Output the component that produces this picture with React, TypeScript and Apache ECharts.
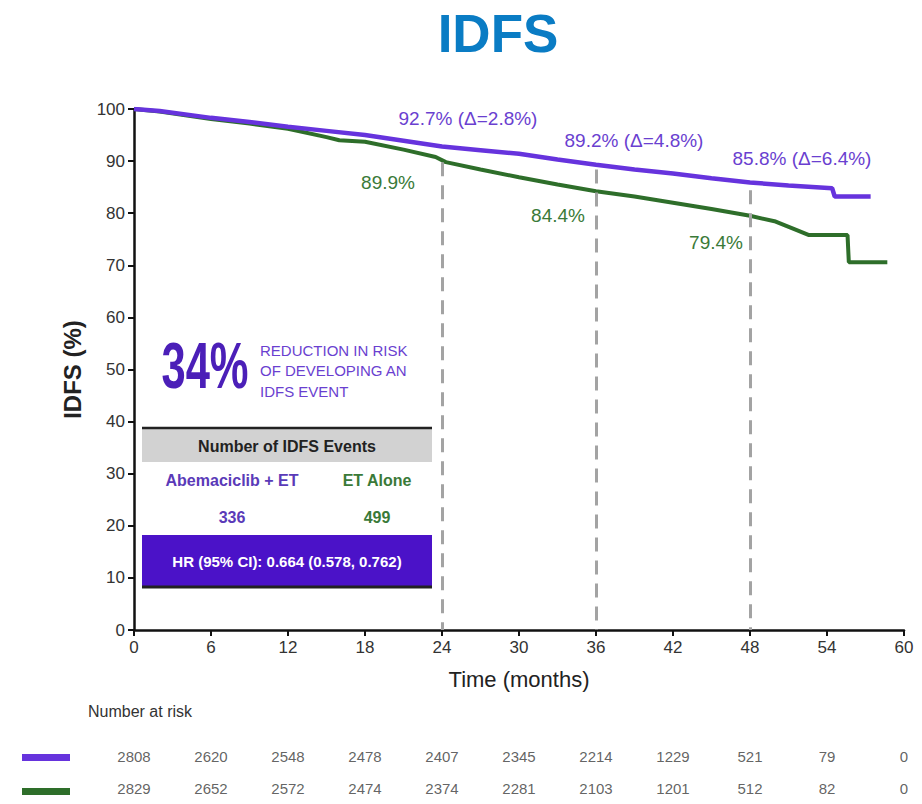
import React, { useEffect, useRef } from "react";
import * as echarts from "echarts";

const FONT = '"Liberation Sans", Arial, Helvetica, sans-serif';
const PURPLE = "#6633dd";
const GREEN = "#2e6e2a";
const PURPLE_TEXT = "#6a3fd0";
const GREEN_TEXT = "#3a7a38";

// Kaplan-Meier curves: [month, IDFS %]
const abemaCurve: [number, number][] = [
  [0, 100], [2, 99.6], [6, 98.3], [9, 97.5], [12, 96.6], [15, 95.8], [18, 95.0],
  [21, 93.9], [24, 92.8], [27, 92.1], [30, 91.4], [33, 90.3], [36, 89.3],
  [39, 88.4], [42, 87.6], [45, 86.7], [48, 85.9], [51, 85.3], [54.4, 84.8],
  [54.6, 83.2], [57.4, 83.2],
];
const etCurve: [number, number][] = [
  [0, 100], [2, 99.5], [6, 98.1], [9, 97.2], [12, 96.2], [15, 94.6], [16, 94.0],
  [18, 93.7], [21, 92.2], [23.5, 90.8], [24.3, 89.8], [27, 88.4], [30, 86.9],
  [33, 85.5], [36, 84.2], [39, 83.2], [42, 82.0], [45, 80.8], [48, 79.5],
  [50, 78.4], [51.5, 76.9], [52.6, 75.8], [55.6, 75.8], [55.7, 70.6], [58.7, 70.6],
];

// Landmark dashed lines: [month, top value]
const landmarks: [number, number][] = [[24, 89.8], [36, 88.4], [48, 84.4]];

// Number at risk
const riskMonths = [0, 6, 12, 18, 24, 30, 36, 42, 48, 54, 60];
const abemaRisk = [2808, 2620, 2548, 2478, 2407, 2345, 2214, 1229, 521, 79, 0];
const etRisk = [2829, 2652, 2572, 2474, 2374, 2281, 2103, 1201, 512, 82, 0];

// Annotation texts
const abemaLabels = ["92.7% (Δ=2.8%)", "89.2% (Δ=4.8%)", "85.8% (Δ=6.4%)"];
const etLabels = ["89.9%", "84.4%", "79.4%"];
const eventsAbema = "336";
const eventsEt = "499";
const hrText = "HR (95% CI): 0.664 (0.578, 0.762)";

function txt(x: number, y: number, text: string, font: string, fill: string, align = "center", extra: any = {}) {
  return {
    type: "text",
    x,
    y,
    ...extra,
    style: { text, font, fill, align, verticalAlign: "middle" },
  };
}

export default function App() {
  const ref = useRef<HTMLDivElement>(null);

  useEffect(() => {
    if (!ref.current) return;
    const chart = echarts.init(ref.current, undefined, { renderer: "svg" });

    const abemaLabelPos = [[468, 118], [634, 140], [802, 158]];
    const etLabelPos = [[388, 182], [558, 215], [716, 242]];

    const graphics: any[] = [
      txt(498, 33, "IDFS", `bold 53px ${FONT}`, "#0a7cc4"),
      ...abemaLabels.map((t, i) => txt(abemaLabelPos[i][0], abemaLabelPos[i][1], t, `19px ${FONT}`, PURPLE_TEXT)),
      ...etLabels.map((t, i) => txt(etLabelPos[i][0], etLabelPos[i][1], t, `19px ${FONT}`, GREEN_TEXT)),
      // inset
      txt(205, 366, "34%", `bold 64px ${FONT}`, "#4b1fb8", "center", { scaleX: 0.68 }),
      txt(260, 350, "REDUCTION IN RISK", `15px ${FONT}`, "#6a3fd0", "left"),
      txt(260, 370, "OF DEVELOPING AN", `15px ${FONT}`, "#6a3fd0", "left"),
      txt(260, 391, "IDFS EVENT", `15px ${FONT}`, "#6a3fd0", "left"),
      { type: "rect", shape: { x: 142, y: 428, width: 290, height: 34 }, style: { fill: "#d2d2d2" } },
      { type: "line", shape: { x1: 142, y1: 428, x2: 432, y2: 428 }, style: { stroke: "#222", lineWidth: 2.5 } },
      txt(287, 446, "Number of IDFS Events", `bold 16px ${FONT}`, "#222"),
      txt(232, 480, "Abemaciclib + ET", `bold 16px ${FONT}`, "#5a3ab8"),
      txt(377, 480, "ET Alone", `bold 16px ${FONT}`, GREEN_TEXT),
      txt(232, 517, eventsAbema, `bold 16px ${FONT}`, "#5a3ab8"),
      txt(377, 517, eventsEt, `bold 16px ${FONT}`, GREEN_TEXT),
      { type: "rect", shape: { x: 142, y: 535, width: 290, height: 51 }, style: { fill: "#4b12c8" } },
      { type: "line", shape: { x1: 142, y1: 587, x2: 432, y2: 587 }, style: { stroke: "#222", lineWidth: 3 } },
      txt(287, 561, hrText, `bold 15px ${FONT}`, "#ffffff"),
      // risk table
      txt(88, 711, "Number at risk", `16px ${FONT}`, "#333", "left"),
      { type: "rect", shape: { x: 22, y: 754, width: 48, height: 7 }, style: { fill: PURPLE } },
      { type: "rect", shape: { x: 22, y: 788, width: 48, height: 7 }, style: { fill: GREEN } },
    ];

    const option: any = {
      animation: false,
      backgroundColor: "#ffffff",
      textStyle: { fontFamily: FONT },
      grid: [
        { left: 134, right: 18, top: 109, bottom: 174 },
        { left: 134, right: 18, top: 741, height: 68 },
      ],
      xAxis: [
        {
          type: "value", gridIndex: 0, min: 0, max: 60, interval: 6,
          axisLine: { show: true, onZero: false, lineStyle: { color: "#111", width: 2.5 } },
          axisTick: { show: true, length: 6, lineStyle: { color: "#111", width: 2 } },
          axisLabel: { color: "#333", fontSize: 17, margin: 9, fontFamily: FONT },
          splitLine: { show: false },
          name: "Time (months)", nameLocation: "middle", nameGap: 38,
          nameTextStyle: { fontSize: 22, color: "#222", fontFamily: FONT },
        },
        { type: "value", gridIndex: 1, min: 0, max: 60, show: false },
      ],
      yAxis: [
        {
          type: "value", gridIndex: 0, min: 0, max: 100, interval: 10,
          axisLine: { show: true, lineStyle: { color: "#111", width: 2.5 } },
          axisTick: { show: true, length: 6, lineStyle: { color: "#111", width: 2 } },
          axisLabel: { color: "#333", fontSize: 17, margin: 9, fontFamily: FONT },
          splitLine: { show: false },
          name: "IDFS (%)", nameLocation: "middle", nameGap: 50, nameRotate: 90,
          nameTextStyle: { fontSize: 24, fontWeight: "bold", color: "#222", fontFamily: FONT },
        },
        { type: "category", gridIndex: 1, data: ["abema", "et"], inverse: true, show: false },
      ],
      series: [
        {
          type: "line", name: "ET Alone", xAxisIndex: 0, yAxisIndex: 0,
          data: etCurve, showSymbol: false, symbol: "none",
          lineStyle: { color: GREEN, width: 4 }, z: 3,
          markLine: {
            silent: true, symbol: "none", label: { show: false },
            lineStyle: { type: [14, 9], color: "#a3a3a3", width: 3 },
            data: landmarks.map(([m, v]) => [{ coord: [m, v] }, { coord: [m, 0] }]),
          },
        },
        {
          type: "line", name: "Abemaciclib + ET", xAxisIndex: 0, yAxisIndex: 0,
          data: abemaCurve, showSymbol: false, symbol: "none",
          lineStyle: { color: PURPLE, width: 4.5 }, z: 4,
        },
        {
          type: "scatter", xAxisIndex: 1, yAxisIndex: 1, symbolSize: 1,
          itemStyle: { color: "rgba(0,0,0,0)" }, silent: true,
          data: riskMonths.map((m, i) => [m, "abema", abemaRisk[i]]),
          label: { show: true, position: "inside", formatter: (p: any) => String(p.value[2]), color: "#3a3a3a", fontSize: 15, fontFamily: FONT },
        },
        {
          type: "scatter", xAxisIndex: 1, yAxisIndex: 1, symbolSize: 1,
          itemStyle: { color: "rgba(0,0,0,0)" }, silent: true,
          data: riskMonths.map((m, i) => [m, "et", etRisk[i]]),
          label: { show: true, position: "inside", formatter: (p: any) => String(p.value[2]), color: "#3a3a3a", fontSize: 15, fontFamily: FONT },
        },
      ],
      graphic: graphics,
    };

    chart.setOption(option);
    return () => chart.dispose();
  }, []);

  return <div ref={ref} style={{ width: 922, height: 804, position: "absolute", left: 0, top: 0 }} />;
}
